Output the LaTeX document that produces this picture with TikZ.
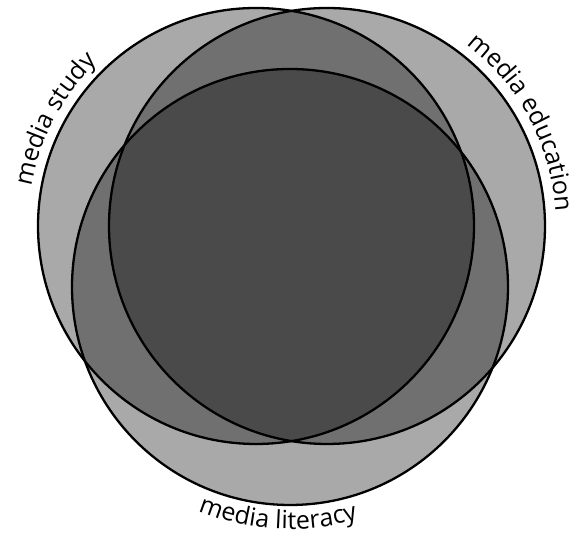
\documentclass[tikz,border=0pt]{standalone}
\usepackage{fontspec}
\setmainfont{Open Sans}
\usetikzlibrary{decorations.text,calc}
\begin{document}
\begin{tikzpicture}[x=1pt,y=1pt,
  setfill/.style={circle, minimum size=436pt, inner sep=0pt, outer sep=0pt, fill=black, fill opacity=0.337},
  outline/.style={draw=black, line width=2.3pt},
  arclabel/.style={decorate, decoration={text along path, text align=center, text={#1}}}
]
\useasboundingbox (0,0) rectangle (571,534);
\node[setfill] (study) at (256,308) {};
\node[setfill] (education) at (327,308) {};
\node[setfill] (literacy) at (290,247) {};
\draw[outline] (study.center) circle (218pt);
\draw[outline] (education.center) circle (218pt);
\draw[outline] (literacy.center) circle (218pt);
\path[arclabel={|\fontsize{25pt}{29pt}\selectfont|media study}]
  ($(study.center)+(200:228pt)$) arc[start angle=200, end angle=104, radius=228pt];
\path[arclabel={|\fontsize{25pt}{29pt}\selectfont|media education}]
  ($(education.center)+(75:229pt)$) arc[start angle=75, end angle=-19, radius=229pt];
\path[arclabel={|\fontsize{25pt}{29pt}\selectfont|media literacy}]
  ($(literacy.center)+(221:242pt)$) arc[start angle=221, end angle=313, radius=242pt];
\end{tikzpicture}
\end{document}
